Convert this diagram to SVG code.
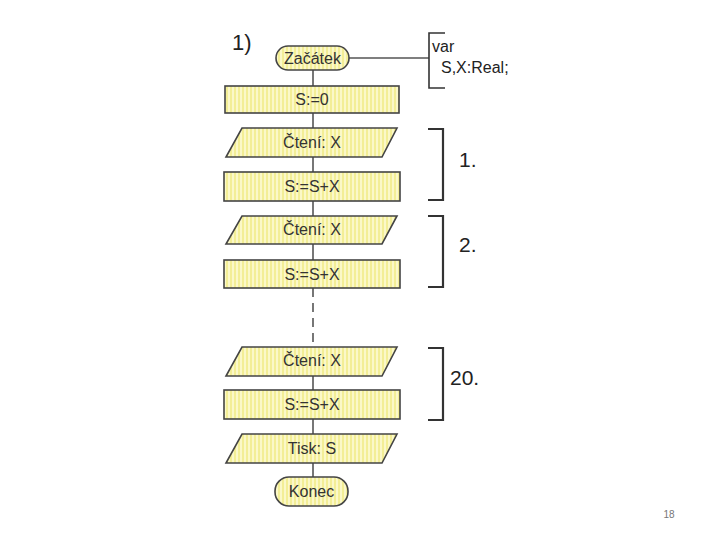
<svg xmlns="http://www.w3.org/2000/svg" width="720" height="540" viewBox="0 0 720 540">
<defs>
<pattern id="stripe" patternUnits="userSpaceOnUse" width="4" height="4">
<rect width="4" height="4" fill="#f3ee96"/>
<rect width="2" height="4" fill="#fbf8c8"/>
</pattern>
<style>
.shape{fill:url(#stripe);stroke:#444;stroke-width:1.6}
.t{font-family:"Liberation Sans",Arial,sans-serif;font-size:16px;fill:#333;text-anchor:middle}
.big{font-family:"Liberation Sans",Arial,sans-serif;font-size:21px;fill:#222}
.note{font-family:"Liberation Sans",Arial,sans-serif;font-size:16px;fill:#222}
.ln{stroke:#555;stroke-width:1.6;fill:none}
.br{stroke:#333;stroke-width:2.2;fill:none}
</style>
</defs>
<rect width="720" height="540" fill="#fff"/>
<g id="connectors">
<line class="ln" x1="313" y1="70" x2="313" y2="288"/>
<line class="ln" x1="313" y1="288" x2="313" y2="347" stroke-dasharray="9,6"/>
<line class="ln" x1="313" y1="376" x2="313" y2="477"/>
<line class="ln" x1="349" y1="58" x2="429" y2="58"/>
</g>
<text class="big" x="232" y="50" style="font-size:22px">1)</text>
<g id="start">
<rect class="shape" x="276" y="46" width="73" height="24" rx="12"/>
<text class="t" x="312.5" y="64">Začátek</text>
</g>
<g id="decl">
<path class="br" d="M445,33 H429 V88 H445" style="stroke-width:1.6"/>
<text class="note" x="432" y="52">var</text>
<text class="note" x="441" y="73">S,X:Real;</text>
</g>
<g id="init">
<rect class="shape" x="225" y="86" width="174" height="27"/>
<text class="t" x="312" y="105">S:=0</text>
</g>
<g id="read1">
<polygon class="shape" points="242,128 397,128 382,157 226,157"/>
<text class="t" x="312" y="148">Čtení: X</text>
</g>
<g id="add1">
<rect class="shape" x="224" y="172" width="176" height="29"/>
<text class="t" x="312" y="192">S:=S+X</text>
</g>
<g id="read2">
<polygon class="shape" points="242,216 397,216 382,244 226,244"/>
<text class="t" x="312" y="235">Čtení: X</text>
</g>
<g id="add2">
<rect class="shape" x="224" y="260" width="176" height="28"/>
<text class="t" x="312" y="280">S:=S+X</text>
</g>
<g id="read20">
<polygon class="shape" points="242,347 397,347 382,376 226,376"/>
<text class="t" x="312" y="366">Čtení: X</text>
</g>
<g id="add20">
<rect class="shape" x="224" y="390" width="176" height="29"/>
<text class="t" x="312" y="410">S:=S+X</text>
</g>
<g id="print">
<polygon class="shape" points="242,434 397,434 382,463 226,463"/>
<text class="t" x="312" y="454">Tisk: S</text>
</g>
<g id="end">
<rect class="shape" x="275" y="477" width="73" height="29" rx="14"/>
<text class="t" x="311.5" y="497">Konec</text>
</g>
<g id="brackets">
<path class="br" d="M428,129 H443 V200 H428"/>
<text class="big" x="459" y="167">1.</text>
<path class="br" d="M428,216 H443 V287 H428"/>
<text class="big" x="459" y="252">2.</text>
<path class="br" d="M428,348 H443 V420 H428"/>
<text class="big" x="450" y="385">20.</text>
</g>
<text x="669" y="518" style="font-family:'Liberation Sans',Arial,sans-serif;font-size:10px;fill:#777;text-anchor:middle">18</text>
</svg>
